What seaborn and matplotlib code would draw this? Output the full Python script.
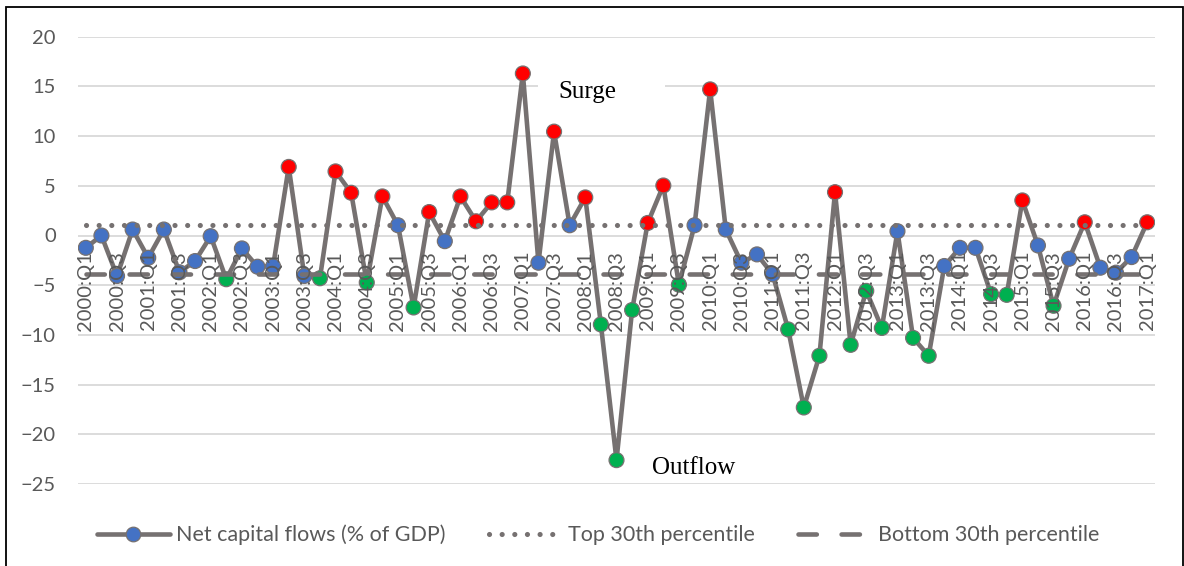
import matplotlib
matplotlib.use("Agg")
import matplotlib.pyplot as plt
from matplotlib.lines import Line2D
from matplotlib.patches import Rectangle
import seaborn as sns
import pandas as pd

# Net capital flows (% of GDP), quarterly 2000:Q1 - 2017:Q1
net_flows = [
    -1.24, 0.0, -4.07, 0.6, -2.24, 0.6, -3.7, -2.57,          # 2000-2001
    -0.07, -4.4, -1.3, -3.14, -3.1, 6.9, -4.07, -4.3,          # 2002-2003
    6.45, 4.3, -4.73, 3.93, 1.03, -7.24, 2.36, -0.57,          # 2004-2005
    3.93, 1.43, 3.33, 3.33, 16.3, -2.74, 10.45, 1.03,          # 2006-2007
    3.83, -8.95, -22.6, -7.5, 1.26, 5.03, -4.95, 1.03,         # 2008-2009
    14.7, 0.6, -2.74, -1.9, -3.9, -9.45, -17.3, -12.1,         # 2010-2011
    4.36, -11.0, -5.57, -9.3, 0.43, -10.3, -12.1, -3.07,       # 2012-2013
    -1.24, -1.24, -5.9, -5.97, 3.53, -1.0, -7.07, -2.34,       # 2014-2015
    1.33, -3.24, -3.74, -2.17, 1.33,                           # 2016-2017:Q1
]
# regime of each quarter: N = normal, S = surge, O = outflow
regime = list(
    "NNNNNNNN"
    "NONNNSNO"
    "SSOSNOSN"
    "SSSSSNSN"
    "SOOOSSON"
    "SNNNNOOO"
    "SOOONOON"
    "NNOOSNON"
    "SNNNS"
)
top_pct = 1.1
bottom_pct = -3.9

years = list(range(2000, 2018))
quarters = [f"{y}:Q{q}" for y in years for q in (1, 2, 3, 4)][:len(net_flows)]

df = pd.DataFrame({
    "t": range(len(net_flows)),
    "flow": net_flows,
    "regime": regime,
    "top": [top_pct] * len(net_flows),
    "bottom": [bottom_pct] * len(net_flows),
})

sns.set_style("white")
plt.rcParams["font.family"] = ["Lato", "DejaVu Sans"]

GRAY = "#767171"
TXT = "#595959"
palette = {"N": "#4472C4", "S": "#FF0000", "O": "#00B050"}

fig = plt.figure(figsize=(11.84, 5.66), dpi=100)
ax = fig.add_axes([78 / 1184, 1 - 484 / 566, (1155 - 78) / 1184, (484 - 36.7) / 566])

sns.lineplot(data=df, x="t", y="flow", color=GRAY, lw=3.3, ax=ax, zorder=2)
sns.scatterplot(data=df, x="t", y="flow", hue="regime", palette=palette, s=115,
                edgecolor=GRAY, linewidth=0.9, legend=False, ax=ax, zorder=3)
sns.lineplot(data=df, x="t", y="top", color=GRAY, lw=3.7, ax=ax, zorder=4)
ax.lines[-1].set_dashes((0.01, 2.45))
ax.lines[-1].set_dash_capstyle("round")
sns.lineplot(data=df, x="t", y="bottom", color=GRAY, lw=3.3, ax=ax, zorder=4)
ax.lines[-1].set_dashes((4.0, 5.4))
ax.lines[-1].set_dash_capstyle("round")

for s in ax.spines.values():
    s.set_visible(False)
ax.spines["bottom"].set_position(("data", 0))

ax.set_xlim(-0.5, len(net_flows) - 0.5)
ax.set_ylim(-25, 20)
ax.set_yticks(range(-25, 21, 5))
ax.set_xticks(range(0, len(net_flows), 2))
ax.set_xticklabels(quarters[::2])
ax.set_xlabel("")
ax.set_ylabel("")

ax.tick_params(axis="x", length=0, pad=11, labelsize=14.5, labelcolor=TXT, labelrotation=90)
ax.tick_params(axis="y", length=0, pad=16, labelsize=14.5, labelcolor=TXT)
ax.yaxis.grid(True, color="#d9d9d9", lw=1.3)
ax.xaxis.grid(False)
ax.set_axisbelow(True)
ax.xaxis.set_zorder(5)

# white box behind the "Surge" label, hides the gridline
ax.add_patch(Rectangle((29.0, 13.6), 8.1, 3.0, facecolor="white", edgecolor="none", zorder=1))
ax.text(30.26, 13.8, "Surge", family="Liberation Serif", fontsize=18, color="black",
        va="baseline", ha="left", zorder=6)
ax.text(36.28, -24.0, "Outflow", family="Liberation Serif", fontsize=18, color="black",
        va="baseline", ha="left", zorder=6)

handles = [
    Line2D([], [], color=GRAY, lw=3.3, marker="o", markersize=10.5,
           markerfacecolor=palette["N"], markeredgecolor=GRAY, markeredgewidth=0.9),
    Line2D([], [], color=GRAY, lw=3.7, dashes=(0.01, 2.45), dash_capstyle="round"),
    Line2D([], [], color=GRAY, lw=3.3, dashes=(4.0, 5.4), dash_capstyle="round"),
]
labels = ["Net capital flows (% of GDP)", "Top 30th percentile", "Bottom 30th percentile"]
fig.legend(handles, labels, loc="center", bbox_to_anchor=(598 / 1184, 1 - 535 / 566),
           ncol=3, frameon=False, fontsize=15.5, labelcolor=TXT, handlelength=3.4,
           handletextpad=0.3, columnspacing=2.0, numpoints=1)

fig.patches.append(Rectangle((6 / 1184, -0.02), (1183 - 6) / 1184, 1 - 7.3 / 566 + 0.02,
                             transform=fig.transFigure, fill=False, edgecolor="black", lw=1.3))

fig.savefig("out.png", dpi=100)
